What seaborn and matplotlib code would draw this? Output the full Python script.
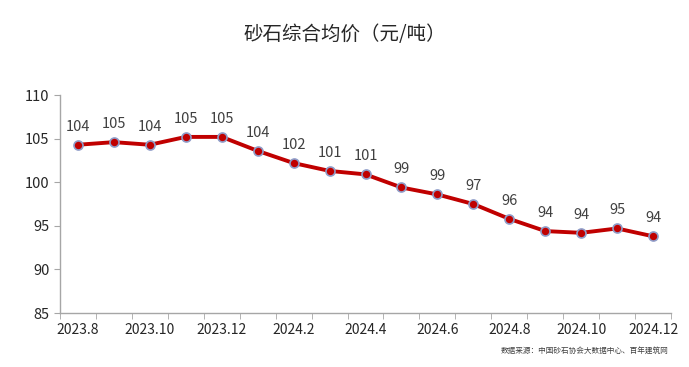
import pandas as pd
import matplotlib.pyplot as plt
import seaborn as sns

months = ['2023.8', '2023.9', '2023.10', '2023.11', '2023.12', '2024.1', '2024.2', '2024.3',
          '2024.4', '2024.5', '2024.6', '2024.7', '2024.8', '2024.9', '2024.10', '2024.11', '2024.12']
prices = [104.3, 104.6, 104.3, 105.2, 105.2, 103.6, 102.2, 101.3, 100.9,
          99.4, 98.6, 97.5, 95.8, 94.4, 94.2, 94.7, 93.8]
labels = ['104', '105', '104', '105', '105', '104', '102', '101', '101',
          '99', '99', '97', '96', '94', '94', '95', '94']

df = pd.DataFrame({'month': months, 'price': prices})
df['pos'] = range(len(df))

sns.set_style("white")
plt.rcParams['font.family'] = ['Noto Sans CJK SC', 'DejaVu Sans']

fig = plt.figure(figsize=(6.89, 3.67), dpi=100)
ax = fig.add_axes([0.087, 0.147, 0.887, 0.594])

sns.lineplot(x='pos', y='price', data=df, ax=ax, color='#C00000', linewidth=2.8,
             marker='o', markersize=6.5, markerfacecolor='#C00000',
             markeredgecolor='#8E9CC8', markeredgewidth=1.2)

# value labels above each point
for i, (v, t) in enumerate(zip(prices, labels)):
    ax.annotate(t, (i, v), xytext=(0, 8), textcoords='offset points',
                ha='center', va='bottom', fontsize=10.5, color='#404040')

ax.set_xlim(-0.5, len(months) - 0.5)
ax.set_ylim(85, 110)
ax.set_yticks([85, 90, 95, 100, 105, 110])
ax.set_xticks(range(0, len(months), 2))
ax.set_xticklabels(months[::2])
ax.set_xticks([i + 0.5 for i in range(-1, len(months))], minor=True)
ax.tick_params(axis='x', which='major', length=0, labelsize=10, pad=7, colors='#262626')
ax.tick_params(axis='x', which='minor', length=4, color='#A6A6A6', bottom=True)
ax.tick_params(axis='y', length=4, color='#A6A6A6', left=True, labelsize=10.5, colors='#262626')
ax.set_xlabel('')
ax.set_ylabel('')

for s in ['top', 'right']:
    ax.spines[s].set_visible(False)
for s in ['left', 'bottom']:
    ax.spines[s].set_color('#A6A6A6')
    ax.spines[s].set_linewidth(1)

fig.text(0.5, 0.905, '砂石综合均价（元/吨）', ha='center', va='center', fontsize=14,
         color='#262626', fontweight='medium')
fig.text(0.97, 0.045, '数据来源：中国砂石协会大数据中心、百年建筑网', ha='right', va='center',
         fontsize=5.5, color='#404040')

plt.savefig('out.png', dpi=100)
